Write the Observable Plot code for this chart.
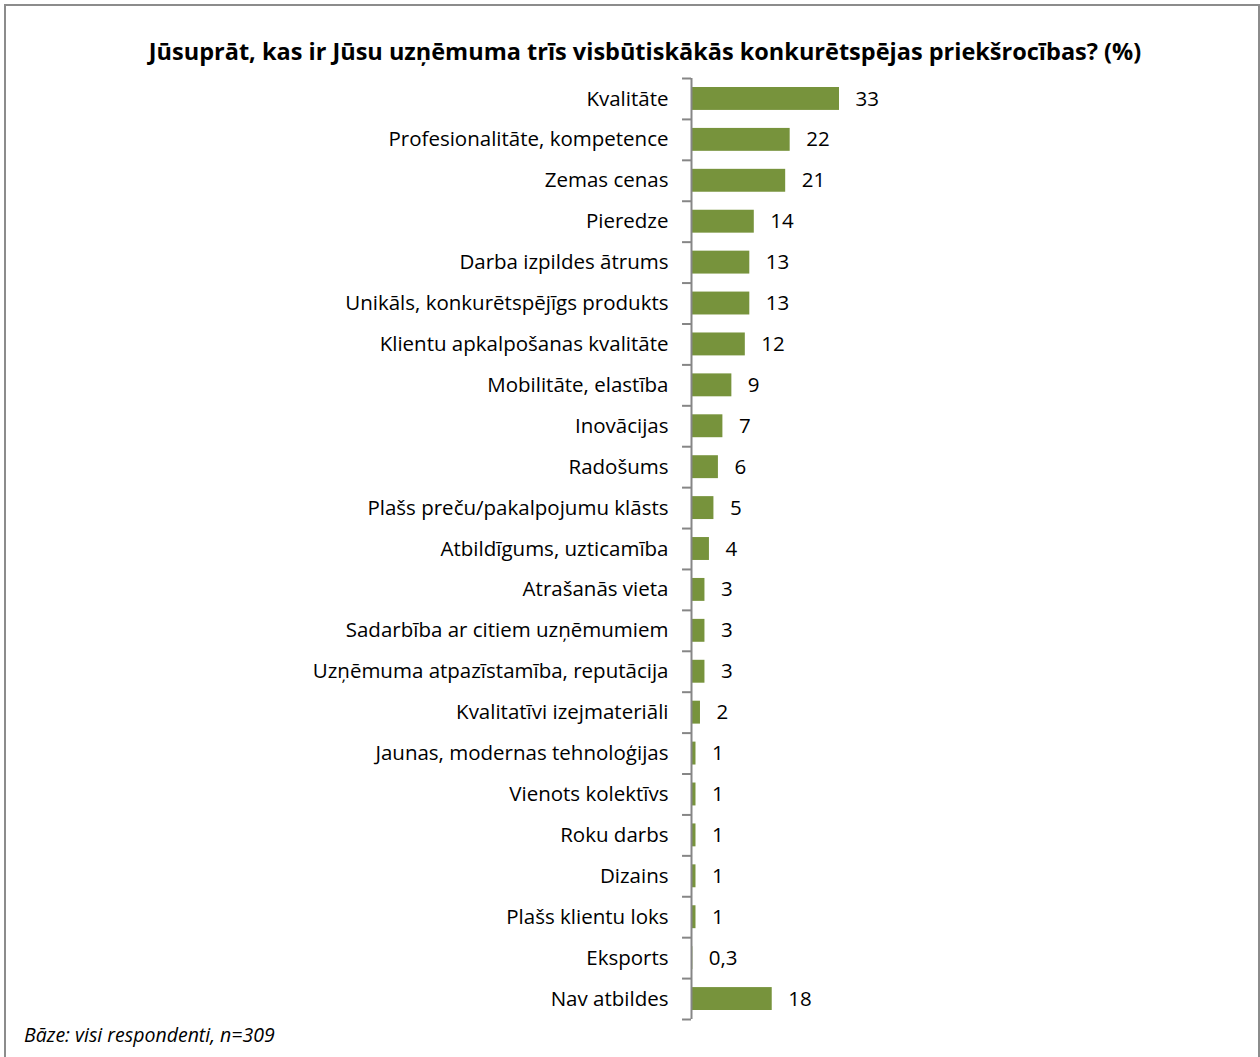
<!DOCTYPE html>
<html>
<head>
<meta charset="utf-8">
<script src="https://cdn.jsdelivr.net/npm/d3@7"></script>
<script src="https://cdn.jsdelivr.net/npm/@observablehq/plot@0.6"></script>
<style>
  html, body { margin: 0; padding: 0; background: #fff; }
  body { width: 1260px; height: 1057px; position: relative; overflow: hidden; font-family: "Open Sans", sans-serif; }
  #frame { position: absolute; left: 4px; top: 4px; width: 1256px; height: 1100px; border: 2px solid #8c8c8c; box-sizing: border-box; }
  #title { position: absolute; left: 0; width: 1290px; top: 35px; text-align: center; font-weight: bold; font-size: 23.5px; color: #000; white-space: nowrap; }
  #chart { position: absolute; left: 0; top: 0; }
  #caption { position: absolute; left: 24px; top: 1021px; font-style: italic; font-size: 19.5px; color: #000; }
</style>
</head>
<body>
<div id="frame"></div>
<div id="chart"></div>
<div id="title">Jūsuprāt, kas ir Jūsu uzņēmuma trīs visbūtiskākās konkurētspējas priekšrocības? (%)</div>
<div id="caption">Bāze: visi respondenti, n=309</div>
<script>
const categories = [
  "Kvalitāte",
  "Profesionalitāte, kompetence",
  "Zemas cenas",
  "Pieredze",
  "Darba izpildes ātrums",
  "Unikāls, konkurētspējīgs produkts",
  "Klientu apkalpošanas kvalitāte",
  "Mobilitāte, elastība",
  "Inovācijas",
  "Radošums",
  "Plašs preču/pakalpojumu klāsts",
  "Atbildīgums, uzticamība",
  "Atrašanās vieta",
  "Sadarbība ar citiem uzņēmumiem",
  "Uzņēmuma atpazīstamība, reputācija",
  "Kvalitatīvi izejmateriāli",
  "Jaunas, modernas tehnoloģijas",
  "Vienots kolektīvs",
  "Roku darbs",
  "Dizains",
  "Plašs klientu loks",
  "Eksports",
  "Nav atbildes"
];
const values = [33, 22, 21, 14, 13, 13, 12, 9, 7, 6, 5, 4, 3, 3, 3, 2, 1, 1, 1, 1, 1, 0.3, 18];

const data = categories.map((c, i) => ({category: c, value: values[i]}));
const fmt = v => Number.isInteger(v) ? String(v) : String(v).replace(".", ",");

const plotTop = 78, plotBottom = 1019;
const band = (plotBottom - plotTop) / categories.length;
const boundaries = categories.map(c => ({category: c, dy: -band / 2}))
  .concat([{category: categories[categories.length - 1], dy: band / 2}]);

const chart = Plot.plot({
  width: 1260,
  height: 1057,
  marginTop: plotTop,
  marginBottom: 1057 - plotBottom,
  marginLeft: 691,
  marginRight: 100,
  style: {fontFamily: "Open Sans, sans-serif", fontSize: "20.5px", color: "#000", background: "transparent"},
  x: {domain: [0, 33], range: [691, 839], axis: null},
  y: {domain: categories, paddingInner: 0.44, paddingOuter: 0.22, round: false, label: null},
  marks: [
    Plot.axisY({tickSize: 0, tickPadding: 23, fontSize: 20.5, label: null, fill: "#000"}),
    Plot.barX(data, {x: "value", y: "category", fill: "#77933C"}),
    Plot.text(data, {x: "value", y: "category", text: d => fmt(d.value), dx: 16, textAnchor: "start", fontSize: 20.5, fill: "#000"}),
    Plot.ruleX([0], {stroke: "#868686", strokeWidth: 2}),
    ...boundaries.map(b => Plot.ruleY([b], {y: "category", x1: -2, x2: 0, dy: b.dy, stroke: "#868686", strokeWidth: 2}))
  ]
});
document.getElementById("chart").appendChild(chart);
</script>
</body>
</html>
